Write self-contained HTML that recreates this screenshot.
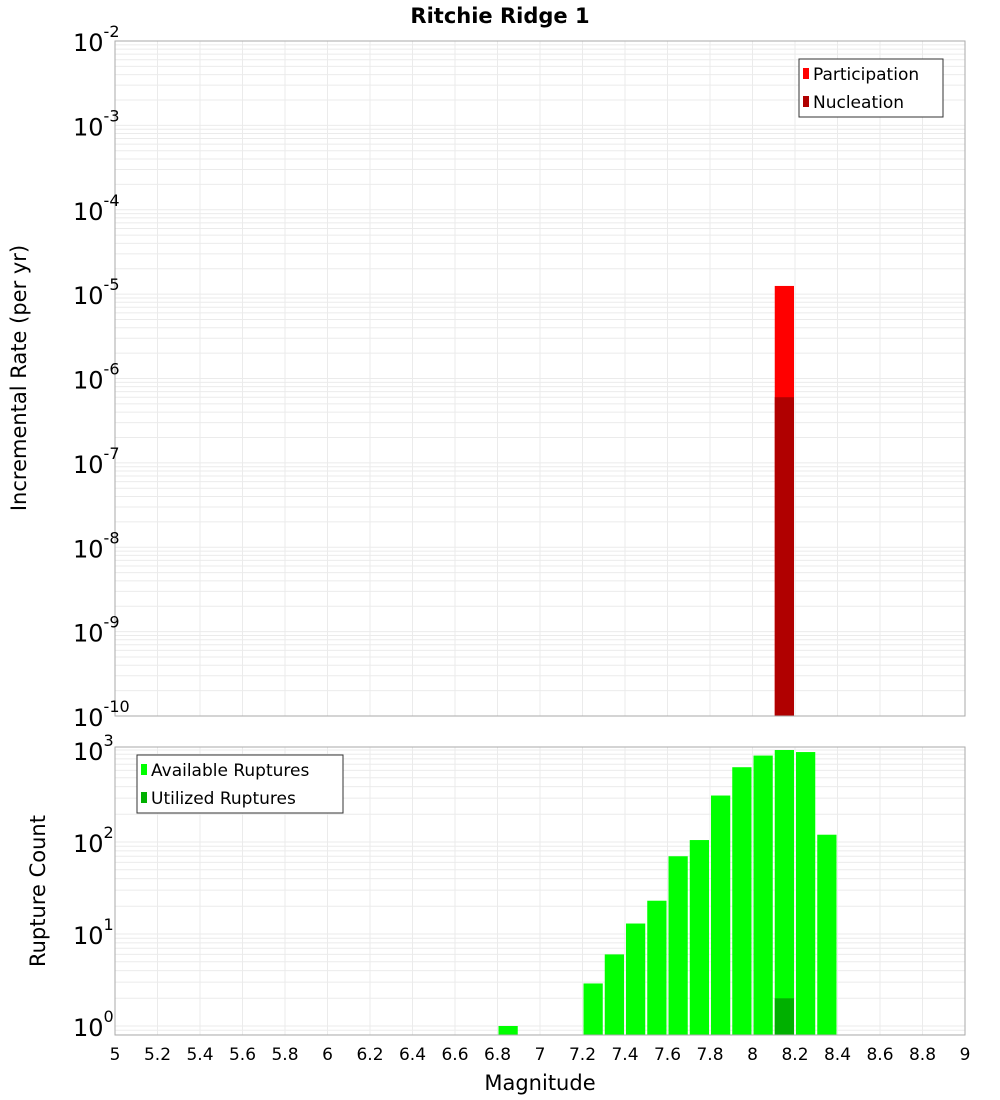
<!DOCTYPE html>
<html><head><meta charset="utf-8"><title>Ritchie Ridge 1</title>
<style>html,body{margin:0;padding:0;background:#fff;}svg{display:block;font-family:"DejaVu Sans","Liberation Sans",sans-serif;}</style>
</head><body>
<svg id="chart" width="1000" height="1100" xmlns="http://www.w3.org/2000/svg">
<text x="500" y="23" text-anchor="middle" font-size="21" font-weight="bold" fill="#000">Ritchie Ridge 1</text>
<g id="topg"></g><g id="botg"></g><g id="xaxisg"></g>
<text transform="translate(26,378) rotate(-90)" text-anchor="middle" font-size="21" fill="#000">Incremental Rate (per yr)</text>
<text transform="translate(45,891) rotate(-90)" text-anchor="middle" font-size="21" fill="#000">Rupture Count</text>
<text x="540" y="1090" text-anchor="middle" font-size="21" fill="#000">Magnitude</text>
</svg>
<script>
// Top chart data
const rateBins = [8.1];
const participation = [1.25e-5];
const nucleation = [6.0e-7];
// Bottom chart data
const countBins = [6.8, 7.2, 7.3, 7.4, 7.5, 7.6, 7.7, 7.8, 7.9, 8.0, 8.1, 8.2, 8.3];
const available = [1, 2.9, 6, 13, 23, 70, 105, 320, 650, 870, 1000, 950, 120];
const utilizedBins = [8.1];
const utilized = [2];
const xTicks = ["5","5.2","5.4","5.6","5.8","6","6.2","6.4","6.6","6.8","7","7.2","7.4","7.6","7.8","8","8.2","8.4","8.6","8.8","9"];
const topExps = [-2,-3,-4,-5,-6,-7,-8,-9,-10];
const botExps = [0,1,2,3];

const NS = "http://www.w3.org/2000/svg";
const X0 = 115, X1 = 965;
const xs = m => X0 + (m - 5) / 4 * (X1 - X0);
const TT = 41, TB = 716;
const yTop = v => TT + (-2 - Math.log10(v)) * (TB - TT) / 8;
const BT = 747, BB = 1035;
const yBot = v => 1026 - 92 * Math.log10(v);
function mk(tag, attrs, parent) {
  const e = document.createElementNS(NS, tag);
  for (const k in attrs) e.setAttribute(k, attrs[k]);
  parent.appendChild(e); return e;
}
const gTop = document.getElementById('topg'), gBot = document.getElementById('botg'), gX = document.getElementById('xaxisg');

function grid(g, y0, y1, yf, lo, hi) {
  for (let i = 0; i < xTicks.length; i++) {
    const xx = xs(parseFloat(xTicks[i]));
    const l = mk('line', {x1: xx, x2: xx, y1: y0, y2: y1, stroke: '#ebebeb', 'stroke-width': 1}, g);
    
    
  }
  for (let e = lo; e <= hi; e++) for (let k = 1; k < 10; k++) {
    const yy = yf(k * Math.pow(10, e));
    if (yy < y0 || yy > y1) continue;
    const l = mk('line', {x1: X0, x2: X1, y1: yy, y2: yy, stroke: '#ebebeb', 'stroke-width': 1}, g);
    
    
  }
}
grid(gTop, TT, TB, yTop, -10, -2);
grid(gBot, BT, BB, yBot, -1, 3);

const bw = xs(5.1) - xs(5);
function bar(g, m, v, yf, base, color, name) {
  const y = yf(v);
  const r = mk('rect', {x: xs(m) + 1, y: y, width: bw - 2, height: base - y, fill: color}, g);
  
  
}
for (let i = 0; i < rateBins.length; i++) bar(gTop, rateBins[i], participation[i], yTop, TB, '#ff0000', 'participation-bar');
for (let i = 0; i < rateBins.length; i++) bar(gTop, rateBins[i], nucleation[i], yTop, TB, '#b00000', 'nucleation-bar');
for (let i = 0; i < countBins.length; i++) bar(gBot, countBins[i], available[i], yBot, BB, '#00ff00', 'available-bar');
for (let i = 0; i < utilizedBins.length; i++) bar(gBot, utilizedBins[i], utilized[i], yBot, BB, '#00b000', 'utilized-bar');

let f = mk('rect', {x: X0, y: TT, width: X1 - X0, height: TB - TT, fill: 'none', stroke: '#aaa'}, gTop);


f = mk('rect', {x: X0, y: BT, width: X1 - X0, height: BB - BT, fill: 'none', stroke: '#aaa'}, gBot);



function ylabel(g, y, e, name) {
  const t = mk('text', {x: 73, y: y + 10, 'font-size': 24, fill: '#000'}, g);
  
  
  t.innerHTML = '10<tspan dy="-14" font-size="16">' + e + '</tspan>';
}
for (const e of topExps) ylabel(gTop, yTop(Math.pow(10, e)), e, 'top-y-tick-label');
for (const e of botExps) ylabel(gBot, yBot(Math.pow(10, e)), e, 'bottom-y-tick-label');

for (let i = 0; i < xTicks.length; i++) {
  const t = mk('text', {x: xs(parseFloat(xTicks[i])), y: 1060, 'font-size': 17, 'text-anchor': 'middle', fill: '#000'}, gX);
  
  
  t.textContent = xTicks[i];
}

function legend(g, bx, by, w, items) {
  const b = mk('rect', {x: bx, y: by, width: w, height: 58, fill: '#fff', stroke: '#333'}, g);
  
  
  items.forEach((it, i) => {
    const s = mk('rect', {x: bx + 4, y: by + 9 + i * 28, width: 6, height: 11, fill: it[1]}, g);
    
    
    const t = mk('text', {x: bx + 14, y: by + 21 + i * 28, 'font-size': 17, fill: '#000'}, g);
    
    
    t.textContent = it[0];
  });
}
legend(gTop, 799, 59, 144, [['Participation', '#ff0000'], ['Nucleation', '#b00000']]);
legend(gBot, 137, 755, 206, [['Available Ruptures', '#00ff00'], ['Utilized Ruptures', '#00b000']]);
</script>
</body></html>
